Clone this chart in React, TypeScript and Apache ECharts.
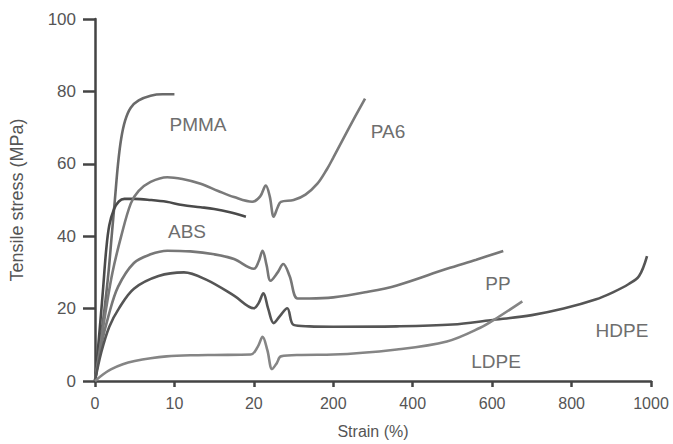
import React, { useEffect, useRef } from "react";
import * as echarts from "echarts";

// x values are positions along the broken strain axis, in tick steps:
// tick i carries the label xTickLabels[i] (0–20 % linear, then 200–1000 %).
const xTickLabels = ["0", "10", "20", "200", "400", "600", "800", "1000"];
const yTicks = [0, 20, 40, 60, 80, 100];

const pmma: [number, number][] = [
  [0, 0], [0.06, 10], [0.12, 20], [0.17, 30], [0.21, 40], [0.25, 50], [0.29, 60],
  [0.33, 67], [0.38, 72], [0.45, 75.5], [0.55, 77.5], [0.7, 78.8], [0.85, 79.2], [1.0, 79.2],
];
const abs: [number, number][] = [
  [0, 0], [0.05, 12], [0.1, 25], [0.14, 36], [0.18, 43], [0.24, 47.5], [0.3, 49.6],
  [0.37, 50.3], [0.5, 50.3], [0.7, 50], [0.9, 49.5], [1.1, 48.6], [1.33, 48],
  [1.5, 47.5], [1.7, 46.6], [1.9, 45.4],
];
const pa6: [number, number][] = [
  [0, 0], [0.07, 10], [0.14, 20], [0.22, 30], [0.33, 40], [0.45, 49], [0.55, 52.5],
  [0.7, 55], [0.91, 56.3], [1.1, 55.8], [1.33, 54.5], [1.55, 52.5], [1.75, 50.8],
  [1.98, 49.5], [2.08, 51], [2.15, 54], [2.2, 51], [2.25, 45.4], [2.3, 48], [2.34, 49.5],
  [2.5, 50], [2.65, 51.5], [2.8, 54.5], [2.92, 58.5], [3.0, 61.7], [3.2, 70], [3.4, 78],
];
const pp: [number, number][] = [
  [0, 0], [0.08, 10], [0.17, 18], [0.29, 26], [0.49, 32.6], [0.7, 35], [0.91, 36],
  [1.2, 35.8], [1.5, 35], [1.75, 33.7], [2.0, 31], [2.06, 33], [2.11, 36], [2.16, 32],
  [2.21, 27.7], [2.3, 30], [2.37, 32.3], [2.45, 29], [2.55, 22.8], [2.7, 22.8], [3.0, 23.1],
  [3.4, 24.5], [3.8, 26.4], [4.43, 31], [4.8, 33.5], [5.14, 35.9],
];
const hdpe: [number, number][] = [
  [0, 0], [0.08, 8], [0.18, 15], [0.3, 20], [0.49, 25.5], [0.8, 29], [1.12, 30],
  [1.4, 28], [1.75, 23.6], [2.0, 20.1], [2.06, 21.5], [2.12, 24.2], [2.18, 20],
  [2.25, 16], [2.33, 18], [2.42, 20.1], [2.5, 15.5], [2.7, 15.1], [3.0, 15],
  [3.8, 15.1], [4.5, 15.6], [4.98, 16.8], [5.5, 18.2], [5.9, 20], [6.3, 22.5],
  [6.52, 24.5], [6.72, 26.8], [6.85, 29], [6.95, 34.5],
];
const ldpe: [number, number][] = [
  [0, 0], [0.1, 1.8], [0.2, 3.2], [0.35, 4.6], [0.5, 5.5], [0.7, 6.3], [0.9, 6.8],
  [1.2, 7.1], [1.5, 7.2], [1.96, 7.3], [2.05, 9.5], [2.11, 12.2], [2.17, 8.5],
  [2.23, 3.3], [2.29, 5], [2.34, 6.8], [2.6, 7.2], [3.0, 7.3], [3.8, 8.7],
  [4.43, 10.9], [4.85, 14.7], [5.06, 17.4], [5.38, 22],
];

const seriesDefs = [
  { name: "PMMA", data: pmma, color: "#6a6a6a" },
  { name: "ABS", data: abs, color: "#4a4a4a" },
  { name: "PA6", data: pa6, color: "#7a7a7a" },
  { name: "PP", data: pp, color: "#777777" },
  { name: "HDPE", data: hdpe, color: "#555555" },
  { name: "LDPE", data: ldpe, color: "#858585" },
];

const curveLabels = [
  { text: "PMMA", x: 198, y: 124 },
  { text: "ABS", x: 187, y: 231 },
  { text: "PA6", x: 388, y: 131 },
  { text: "PP", x: 498, y: 283 },
  { text: "HDPE", x: 622, y: 330 },
  { text: "LDPE", x: 496, y: 361 },
];

const FONT = "'Liberation Sans', Arial, sans-serif";

export default function App() {
  const ref = useRef<HTMLDivElement>(null);
  useEffect(() => {
    document.body.style.margin = "0";
    document.body.style.overflow = "hidden";
    if (!ref.current) return;
    const chart = echarts.init(ref.current, undefined, { renderer: "svg" });
    chart.setOption({
      animation: false,
      backgroundColor: "#ffffff",
      grid: { left: 94, right: 22, top: 19, bottom: 57 },
      xAxis: {
        type: "value",
        min: 0,
        max: xTickLabels.length - 1,
        interval: 1,
        name: "Strain (%)",
        nameLocation: "middle",
        nameGap: 42,
        nameTextStyle: { color: "#555", fontSize: 16, fontFamily: FONT },
        axisLine: { lineStyle: { color: "#444", width: 2.5 } },
        axisTick: { show: true, length: 6, lineStyle: { color: "#444", width: 2.5 } },
        axisLabel: {
          color: "#555",
          fontSize: 16,
          fontFamily: FONT,
          margin: 14,
          formatter: (v: number) => xTickLabels[Math.round(v)] ?? "",
        },
        splitLine: { show: false },
      },
      yAxis: {
        type: "value",
        min: yTicks[0],
        max: yTicks[yTicks.length - 1],
        interval: 20,
        name: "Tensile stress (MPa)",
        nameLocation: "middle",
        nameGap: 69,
        nameTextStyle: { color: "#555", fontSize: 18, fontFamily: FONT },
        axisLine: { show: true, lineStyle: { color: "#444", width: 2.5 } },
        axisTick: { show: true, length: 12, lineStyle: { color: "#444", width: 2.5 } },
        axisLabel: { color: "#555", fontSize: 17, fontFamily: FONT, margin: 19 },
        splitLine: { show: false },
      },
      series: seriesDefs.map((s) => ({
        type: "line",
        name: s.name,
        data: s.data,
        smooth: 0.35,
        showSymbol: false,
        lineStyle: { color: s.color, width: 2.6 },
        z: 3,
      })),
      graphic: curveLabels.map((l) => ({
        type: "text",
        x: l.x,
        y: l.y,
        style: {
          text: l.text,
          fill: "#6e6e6e",
          fontSize: 19,
          fontFamily: FONT,
          align: "center",
          verticalAlign: "middle",
        },
      })),
    });
    return () => chart.dispose();
  }, []);
  return <div ref={ref} style={{ width: 673, height: 444 }} />;
}
